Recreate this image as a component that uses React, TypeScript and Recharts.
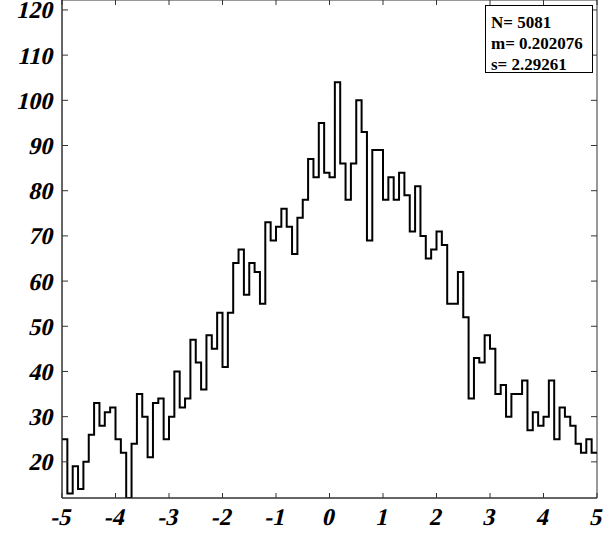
import { LineChart, Line, XAxis, YAxis, ReferenceArea } from "recharts";

// histogram counts, 100 bins of width 0.1 from -5 to 5
const counts = [
  25, 13, 19, 14, 20, 26, 33, 28, 31, 32,
  25, 22, 12, 24, 35, 30, 21, 33, 34, 25,
  30, 40, 32, 34, 47, 42, 36, 48, 45, 53,
  41, 53, 64, 67, 57, 64, 62, 55, 73, 69,
  72, 76, 72, 66, 74, 78, 87, 83, 95, 84,
  83, 104, 86, 78, 86, 100, 93, 69, 89, 89,
  78, 83, 78, 84, 79, 71, 81, 70, 65, 67,
  71, 68, 55, 55, 62, 52, 34, 43, 42, 48,
  45, 35, 37, 30, 35, 35, 38, 27, 31, 28,
  30, 38, 25, 32, 30, 28, 24, 22, 25, 22,
];

const xTicks = [-5, -4, -3, -2, -1, 0, 1, 2, 3, 4, 5];
const yTicks = [20, 30, 40, 50, 60, 70, 80, 90, 100, 110, 120];
const statsLines = ["N= 5081", "m= 0.202076", "s= 2.29261"];

const X_MIN = -5;
const X_MAX = 5;
const BIN_W = 0.1;
const Y_MIN = 12;
const Y_MAX = 122.2;

const PLOT_TOP = 0;
const PLOT_RIGHT = 597;
const FRAME = "#333";
const FONT = "'Liberation Serif', 'Times New Roman', serif";
const SLANT = "skewX(-13)"; // the italic face isn't picked up, so slant by hand

const labelStyle = {
  fontFamily: FONT,
  fontWeight: 700,
  fontSize: 24,
  fill: "#000",
};

const data = counts.map((c, i) => ({ x: +(X_MIN + i * BIN_W).toFixed(2), count: c }));
data.push({ x: X_MAX, count: counts[counts.length - 1] });

function XTick({ x, y, payload }: any) {
  return (
    <g>
      <line x1={x} y1={y} x2={x} y2={y - 5} stroke={FRAME} />
      <line x1={x} y1={PLOT_TOP} x2={x} y2={PLOT_TOP + 5} stroke={FRAME} />
      <g transform={`translate(${x},${y + 27}) ${SLANT}`}>
        <text x={-2} y={0} textAnchor="middle" style={labelStyle}>
          {payload.value}
        </text>
      </g>
    </g>
  );
}

function YTick({ x, y, payload }: any) {
  return (
    <g>
      <line x1={x} y1={y} x2={x + 6} y2={y} stroke={FRAME} />
      <line x1={PLOT_RIGHT} y1={y} x2={PLOT_RIGHT - 6} y2={y} stroke={FRAME} />
      <g transform={`translate(${x - 10},${y + 8.5}) ${SLANT}`}>
        <text x={0} y={0} textAnchor="end" style={labelStyle}>
          {payload.value}
        </text>
      </g>
    </g>
  );
}

export default function App() {
  return (
    <div style={{ position: "absolute", left: 0, top: 0, width: 610, height: 535, background: "#fff" }}>
      <LineChart width={610} height={535} data={data} margin={{ top: 0, right: 13, bottom: 0, left: 0 }}>
        <XAxis
          dataKey="x"
          type="number"
          domain={[X_MIN, X_MAX]}
          ticks={xTicks}
          interval={0}
          allowDataOverflow
          height={37}
          tickSize={0}
          tickMargin={0}
          tickLine={false}
          axisLine={{ stroke: FRAME }}
          tick={<XTick />}
        />
        <YAxis
          type="number"
          domain={[Y_MIN, Y_MAX]}
          ticks={yTicks}
          interval={0}
          allowDataOverflow
          width={62}
          tickSize={0}
          tickMargin={0}
          tickLine={false}
          axisLine={{ stroke: FRAME }}
          tick={<YTick />}
        />
        <ReferenceArea x1={X_MIN} x2={X_MAX} y1={Y_MIN} y2={Y_MAX} fill="none" stroke={FRAME} strokeWidth={1} />
        <Line
          type="stepAfter"
          dataKey="count"
          stroke="#000"
          strokeWidth={2}
          dot={false}
          activeDot={false}
          isAnimationActive={false}
        />
      </LineChart>
      <div
        style={{
          position: "absolute",
          left: 485,
          top: 5,
          width: 108,
          height: 68,
          border: "1px solid #000",
          background: "#fff",
          fontFamily: FONT,
          fontWeight: "bold",
          fontSize: 17,
          lineHeight: "21px",
          paddingLeft: 5,
          paddingTop: 6,
          boxSizing: "border-box",
          whiteSpace: "nowrap",
          color: "#000",
        }}
      >
        {statsLines.map((s) => (
          <div key={s}>{s}</div>
        ))}
      </div>
    </div>
  );
}
